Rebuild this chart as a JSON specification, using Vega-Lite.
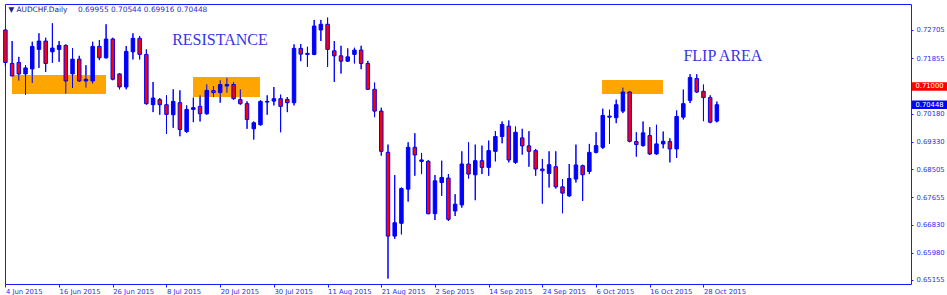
{
  "$schema": "https://vega.github.io/schema/vega-lite/v6.json",
  "width": 906,
  "height": 280,
  "autosize": "none",
  "padding": {"left": 5, "top": 4, "right": 36, "bottom": 11},
  "background": "white",
  "config": {
    "view": {"stroke": "#1a1aff", "strokeWidth": 1},
    "font": "DejaVu Sans",
    "axis": {"grid": false, "domain": false, "labelOverlap": false, "labelBound": false, "labelFlush": false}
  },
  "datasets": {
    "candles": [
      {"i":0,"d":"2015-06-04","o":0.72705,"h":0.72735,"l":0.71612,"c":0.71724},
      {"i":1,"d":"2015-06-05","o":0.71694,"h":0.72371,"l":0.71308,"c":0.71318},
      {"i":2,"d":"2015-06-08","o":0.71724,"h":0.71894,"l":0.71178,"c":0.71378},
      {"i":3,"d":"2015-06-09","o":0.71378,"h":0.71642,"l":0.70753,"c":0.71560},
      {"i":4,"d":"2015-06-10","o":0.71530,"h":0.72350,"l":0.71105,"c":0.72210},
      {"i":5,"d":"2015-06-11","o":0.72119,"h":0.72605,"l":0.71560,"c":0.72371},
      {"i":6,"d":"2015-06-12","o":0.72371,"h":0.72471,"l":0.71439,"c":0.71694},
      {"i":7,"d":"2015-06-15","o":0.72046,"h":0.72908,"l":0.71712,"c":0.72159},
      {"i":8,"d":"2015-06-16","o":0.72119,"h":0.72371,"l":0.71743,"c":0.72240},
      {"i":9,"d":"2015-06-17","o":0.72240,"h":0.72271,"l":0.70783,"c":0.71166},
      {"i":10,"d":"2015-06-18","o":0.71378,"h":0.72159,"l":0.70953,"c":0.71825},
      {"i":11,"d":"2015-06-19","o":0.71825,"h":0.71925,"l":0.71135,"c":0.71166},
      {"i":12,"d":"2015-06-22","o":0.71166,"h":0.71642,"l":0.70965,"c":0.71217},
      {"i":13,"d":"2015-06-23","o":0.71166,"h":0.72350,"l":0.71087,"c":0.72210},
      {"i":14,"d":"2015-06-24","o":0.72210,"h":0.72401,"l":0.71794,"c":0.71864},
      {"i":15,"d":"2015-06-25","o":0.71864,"h":0.72878,"l":0.71846,"c":0.72432},
      {"i":16,"d":"2015-06-26","o":0.72432,"h":0.72471,"l":0.71187,"c":0.71217},
      {"i":17,"d":"2015-06-29","o":0.71378,"h":0.71400,"l":0.70914,"c":0.70984},
      {"i":18,"d":"2015-06-30","o":0.70984,"h":0.72219,"l":0.70914,"c":0.72058},
      {"i":19,"d":"2015-07-01","o":0.72046,"h":0.72605,"l":0.71816,"c":0.72453},
      {"i":20,"d":"2015-07-02","o":0.72453,"h":0.72523,"l":0.71816,"c":0.71967},
      {"i":21,"d":"2015-07-03","o":0.71967,"h":0.72119,"l":0.70449,"c":0.70480},
      {"i":22,"d":"2015-07-06","o":0.70449,"h":0.71135,"l":0.70225,"c":0.70650},
      {"i":23,"d":"2015-07-07","o":0.70601,"h":0.70650,"l":0.70146,"c":0.70449},
      {"i":24,"d":"2015-07-08","o":0.70449,"h":0.70732,"l":0.69569,"c":0.70155},
      {"i":25,"d":"2015-07-09","o":0.70146,"h":0.70914,"l":0.69751,"c":0.70549},
      {"i":26,"d":"2015-07-10","o":0.70510,"h":0.70883,"l":0.69496,"c":0.69699},
      {"i":27,"d":"2015-07-13","o":0.69639,"h":0.70428,"l":0.69599,"c":0.70307},
      {"i":28,"d":"2015-07-14","o":0.70307,"h":0.70662,"l":0.69921,"c":0.70358},
      {"i":29,"d":"2015-07-15","o":0.70398,"h":0.70732,"l":0.69942,"c":0.70176},
      {"i":30,"d":"2015-07-16","o":0.70176,"h":0.71066,"l":0.70146,"c":0.70883},
      {"i":31,"d":"2015-07-17","o":0.70874,"h":0.71014,"l":0.70680,"c":0.70814},
      {"i":32,"d":"2015-07-20","o":0.70814,"h":0.71187,"l":0.70510,"c":0.71057},
      {"i":33,"d":"2015-07-21","o":0.71014,"h":0.71257,"l":0.70814,"c":0.71057},
      {"i":34,"d":"2015-07-22","o":0.71057,"h":0.71135,"l":0.70601,"c":0.70631},
      {"i":35,"d":"2015-07-23","o":0.70601,"h":0.70914,"l":0.70449,"c":0.70480},
      {"i":36,"d":"2015-07-24","o":0.70480,"h":0.70549,"l":0.69721,"c":0.70003},
      {"i":37,"d":"2015-07-27","o":0.69721,"h":0.69942,"l":0.69396,"c":0.69903},
      {"i":38,"d":"2015-07-28","o":0.69842,"h":0.70580,"l":0.69821,"c":0.70549},
      {"i":39,"d":"2015-07-29","o":0.70528,"h":0.70732,"l":0.70146,"c":0.70549},
      {"i":40,"d":"2015-07-30","o":0.70559,"h":0.70984,"l":0.70428,"c":0.70631},
      {"i":41,"d":"2015-07-31","o":0.70631,"h":0.70753,"l":0.69617,"c":0.70398},
      {"i":42,"d":"2015-08-03","o":0.70610,"h":0.70680,"l":0.70225,"c":0.70510},
      {"i":43,"d":"2015-08-04","o":0.70510,"h":0.72271,"l":0.70428,"c":0.72149},
      {"i":44,"d":"2015-08-05","o":0.72149,"h":0.72280,"l":0.71764,"c":0.71976},
      {"i":45,"d":"2015-08-06","o":0.71967,"h":0.72198,"l":0.71591,"c":0.71998},
      {"i":46,"d":"2015-08-07","o":0.71967,"h":0.73009,"l":0.71946,"c":0.72826},
      {"i":47,"d":"2015-08-10","o":0.72705,"h":0.73009,"l":0.72371,"c":0.72878},
      {"i":48,"d":"2015-08-11","o":0.72878,"h":0.73078,"l":0.71591,"c":0.72119},
      {"i":49,"d":"2015-08-12","o":0.72077,"h":0.72371,"l":0.71135,"c":0.71925},
      {"i":50,"d":"2015-08-13","o":0.71925,"h":0.72228,"l":0.71390,"c":0.71764},
      {"i":51,"d":"2015-08-14","o":0.71764,"h":0.72149,"l":0.71743,"c":0.71894},
      {"i":52,"d":"2015-08-17","o":0.71967,"h":0.72168,"l":0.71694,"c":0.72098},
      {"i":53,"d":"2015-08-18","o":0.72098,"h":0.72228,"l":0.71521,"c":0.71694},
      {"i":54,"d":"2015-08-19","o":0.71694,"h":0.71773,"l":0.70893,"c":0.70914},
      {"i":55,"d":"2015-08-20","o":0.70914,"h":0.71117,"l":0.70073,"c":0.70255},
      {"i":56,"d":"2015-08-21","o":0.70255,"h":0.70358,"l":0.68910,"c":0.69041},
      {"i":57,"d":"2015-08-24","o":0.69010,"h":0.69244,"l":0.65197,"c":0.66481},
      {"i":58,"d":"2015-08-25","o":0.66481,"h":0.68324,"l":0.66399,"c":0.66885},
      {"i":59,"d":"2015-08-26","o":0.66867,"h":0.67948,"l":0.66533,"c":0.67917},
      {"i":60,"d":"2015-08-27","o":0.67899,"h":0.69314,"l":0.67523,"c":0.69162},
      {"i":61,"d":"2015-08-28","o":0.69162,"h":0.69587,"l":0.68303,"c":0.68931},
      {"i":62,"d":"2015-08-31","o":0.68737,"h":0.68992,"l":0.68354,"c":0.68780},
      {"i":63,"d":"2015-09-01","o":0.68737,"h":0.68780,"l":0.67140,"c":0.67158},
      {"i":64,"d":"2015-09-02","o":0.67158,"h":0.68324,"l":0.66967,"c":0.68151},
      {"i":65,"d":"2015-09-03","o":0.68099,"h":0.68758,"l":0.67696,"c":0.68251},
      {"i":66,"d":"2015-09-04","o":0.68233,"h":0.68354,"l":0.66937,"c":0.66988},
      {"i":67,"d":"2015-09-07","o":0.67240,"h":0.67747,"l":0.67088,"c":0.67444},
      {"i":68,"d":"2015-09-08","o":0.67422,"h":0.69041,"l":0.67340,"c":0.68658},
      {"i":69,"d":"2015-09-09","o":0.68658,"h":0.69314,"l":0.68221,"c":0.68354},
      {"i":70,"d":"2015-09-10","o":0.68333,"h":0.69244,"l":0.67565,"c":0.68758},
      {"i":71,"d":"2015-09-11","o":0.68758,"h":0.69214,"l":0.68354,"c":0.68555},
      {"i":72,"d":"2015-09-14","o":0.68555,"h":0.69365,"l":0.68303,"c":0.69062},
      {"i":73,"d":"2015-09-15","o":0.69041,"h":0.69648,"l":0.68737,"c":0.69487},
      {"i":74,"d":"2015-09-16","o":0.69487,"h":0.69942,"l":0.69283,"c":0.69851},
      {"i":75,"d":"2015-09-17","o":0.69800,"h":0.69973,"l":0.68707,"c":0.68780},
      {"i":76,"d":"2015-09-18","o":0.68707,"h":0.69790,"l":0.68658,"c":0.69617},
      {"i":77,"d":"2015-09-21","o":0.69447,"h":0.69721,"l":0.68940,"c":0.69205},
      {"i":78,"d":"2015-09-22","o":0.69205,"h":0.69648,"l":0.68576,"c":0.69041},
      {"i":79,"d":"2015-09-23","o":0.69062,"h":0.69113,"l":0.68303,"c":0.68506},
      {"i":80,"d":"2015-09-24","o":0.68506,"h":0.68810,"l":0.67462,"c":0.68455},
      {"i":81,"d":"2015-09-25","o":0.68373,"h":0.69041,"l":0.67948,"c":0.68637},
      {"i":82,"d":"2015-09-28","o":0.68576,"h":0.69041,"l":0.67917,"c":0.67969},
      {"i":83,"d":"2015-09-29","o":0.67969,"h":0.68203,"l":0.67170,"c":0.67778},
      {"i":84,"d":"2015-09-30","o":0.67696,"h":0.68658,"l":0.67665,"c":0.68221},
      {"i":85,"d":"2015-10-01","o":0.68203,"h":0.69244,"l":0.68099,"c":0.68628},
      {"i":86,"d":"2015-10-02","o":0.68606,"h":0.68637,"l":0.67544,"c":0.68333},
      {"i":87,"d":"2015-10-05","o":0.68433,"h":0.69265,"l":0.68354,"c":0.69010},
      {"i":88,"d":"2015-10-06","o":0.69010,"h":0.69617,"l":0.68980,"c":0.69214},
      {"i":89,"d":"2015-10-07","o":0.69162,"h":0.70328,"l":0.69113,"c":0.70124},
      {"i":90,"d":"2015-10-08","o":0.70073,"h":0.70298,"l":0.69265,"c":0.70103},
      {"i":91,"d":"2015-10-09","o":0.70055,"h":0.70601,"l":0.69891,"c":0.70449},
      {"i":92,"d":"2015-10-12","o":0.70255,"h":0.70965,"l":0.70194,"c":0.70832},
      {"i":93,"d":"2015-10-13","o":0.70832,"h":0.70862,"l":0.69314,"c":0.69344},
      {"i":94,"d":"2015-10-14","o":0.69335,"h":0.69617,"l":0.68880,"c":0.69244},
      {"i":95,"d":"2015-10-15","o":0.69214,"h":0.69942,"l":0.69183,"c":0.69599},
      {"i":96,"d":"2015-10-16","o":0.69517,"h":0.69769,"l":0.68931,"c":0.68962},
      {"i":97,"d":"2015-10-19","o":0.68962,"h":0.69842,"l":0.68940,"c":0.69265},
      {"i":98,"d":"2015-10-20","o":0.69265,"h":0.69639,"l":0.69132,"c":0.69344},
      {"i":99,"d":"2015-10-21","o":0.69335,"h":0.69435,"l":0.68707,"c":0.69113},
      {"i":100,"d":"2015-10-22","o":0.69113,"h":0.70276,"l":0.68840,"c":0.70094},
      {"i":101,"d":"2015-10-23","o":0.70073,"h":0.70905,"l":0.70003,"c":0.70480},
      {"i":102,"d":"2015-10-26","o":0.70580,"h":0.71369,"l":0.70498,"c":0.71269},
      {"i":103,"d":"2015-10-27","o":0.71239,"h":0.71369,"l":0.70801,"c":0.70832},
      {"i":104,"d":"2015-10-28","o":0.70853,"h":0.71057,"l":0.69951,"c":0.70662},
      {"i":105,"d":"2015-10-29","o":0.70662,"h":0.70732,"l":0.69891,"c":0.69921},
      {"i":106,"d":"2015-10-30","o":0.69955,"h":0.70544,"l":0.69916,"c":0.70448}
    ],
    "zones": [
      {"a": 0.98, "b": 14.99, "lo": 0.70772, "hi": 0.71346},
      {"a": 27.95, "b": 37.93, "lo": 0.70682, "hi": 0.71286},
      {"a": 88.89, "b": 97.97, "lo": 0.70772, "hi": 0.71195}
    ],
    "notes": [
      {"i": 31.97, "p": 0.72403, "t": "RESISTANCE"},
      {"i": 106.9, "p": 0.71905, "t": "FLIP AREA"}
    ],
    "header": [
      {"i": 0.45, "p": 0.73309, "t": "▼ AUDCHF.Daily", "k": "name"},
      {"i": 10.82, "p": 0.73309, "t": "0.69955 0.70544 0.69916 0.70448", "k": "ohlc"}
    ],
    "prices": [
      {"p": 0.71, "t": "0.71000", "k": "line"},
      {"p": 0.70448, "t": "0.70448", "k": "bid"}
    ]
  },
  "layer": [
    {
      "data": {"name": "candles"},
      "mark": {"type": "rule", "color": "#0000ff", "strokeWidth": 1},
      "encoding": {
        "x": {
          "field": "i", "type": "quantitative", "title": null,
          "scale": {"domain": [-0.06, 134.92], "nice": false, "zero": false, "padding": 0},
          "axis": {
            "values": [0, 8, 16, 24, 32, 40, 48, 56, 64, 72, 80, 88, 96, 104],
            "tickCount": 40,
            "labelExpr": "datum.value == 0 ? '4 Jun 2015' : datum.value == 8 ? '16 Jun 2015' : datum.value == 16 ? '26 Jun 2015' : datum.value == 24 ? '8 Jul 2015' : datum.value == 32 ? '20 Jul 2015' : datum.value == 40 ? '30 Jul 2015' : datum.value == 48 ? '11 Aug 2015' : datum.value == 56 ? '21 Aug 2015' : datum.value == 64 ? '2 Sep 2015' : datum.value == 72 ? '14 Sep 2015' : datum.value == 80 ? '24 Sep 2015' : datum.value == 88 ? '6 Oct 2015' : datum.value == 96 ? '16 Oct 2015' : '28 Oct 2015'",
            "grid": false, "domain": false, "tickColor": "#1a1aff", "tickSize": 3,
            "labelColor": "#2a2aff", "labelFont": "DejaVu Sans", "labelFontSize": 6.8,
            "labelAlign": "left", "labelBaseline": "top", "labelPadding": 1,
            "labelOverlap": false, "labelFlush": false, "labelBound": false
          }
        },
        "y": {
          "field": "l", "type": "quantitative", "title": null,
          "scale": {"domain": [0.65034, 0.7349], "nice": false, "zero": false},
          "axis": {
            "orient": "right",
            "values": [0.72705, 0.71855, 0.7018, 0.6933, 0.68505, 0.67655, 0.6683, 0.6598, 0.65155],
            "tickCount": 40,
            "format": ".5f", "grid": false, "domain": false, "tickColor": "#1a1aff", "tickSize": 2,
            "labelColor": "#2a2aff", "labelFont": "DejaVu Sans", "labelFontSize": 6.8,
            "labelPadding": 3, "labelBaseline": "middle",
            "labelOverlap": false, "labelFlush": false, "labelBound": false
          }
        },
        "y2": {"field": "h"}
      }
    },
    {
      "data": {"name": "zones"},
      "mark": {"type": "rect", "color": "#ffa500"},
      "encoding": {
        "x": {"field": "a", "type": "quantitative", "title": null},
        "x2": {"field": "b"},
        "y": {"field": "lo", "type": "quantitative", "title": null},
        "y2": {"field": "hi"}
      }
    },
    {
      "mark": {"type": "rule", "color": "#d0d0d0", "strokeWidth": 1.5},
      "encoding": {"y": {"datum": 0.70448, "type": "quantitative", "title": null}}
    },
    {
      "data": {"name": "candles"},
      "mark": {"type": "rule", "color": "#0000ff", "strokeWidth": 1},
      "encoding": {
        "x": {"field": "i", "type": "quantitative", "title": null},
        "y": {"field": "l", "type": "quantitative", "title": null},
        "y2": {"field": "h"}
      }
    },
    {
      "data": {"name": "candles"},
      "mark": {"type": "bar", "width": 3.5, "stroke": "#0000ff", "strokeWidth": 1},
      "encoding": {
        "x": {"field": "i", "type": "quantitative", "title": null, "scale": {"padding": 0}},
        "y": {"field": "o", "type": "quantitative", "title": null},
        "y2": {"field": "c"},
        "fill": {"condition": {"test": "datum.c >= datum.o", "value": "#0000ff"}, "value": "#ff0000"}
      }
    },
    {
      "mark": {"type": "rule", "color": "#ff0000", "strokeWidth": 2},
      "encoding": {"y": {"datum": 0.71, "type": "quantitative", "title": null}}
    },
    {
      "data": {"name": "notes"},
      "mark": {"type": "text", "font": "Liberation Serif", "fontSize": 16, "color": "#3535e5", "align": "center", "baseline": "middle"},
      "encoding": {
        "x": {"field": "i", "type": "quantitative", "title": null},
        "y": {"field": "p", "type": "quantitative", "title": null},
        "text": {"field": "t"}
      }
    },
    {
      "data": {"name": "header"},
      "mark": {"type": "text", "font": "DejaVu Sans", "fontSize": 7.4, "align": "left", "baseline": "middle"},
      "encoding": {
        "x": {"field": "i", "type": "quantitative", "title": null},
        "y": {"field": "p", "type": "quantitative", "title": null},
        "text": {"field": "t"},
        "fill": {"condition": {"test": "datum.k == 'name'", "value": "#1c1c8c"}, "value": "#3030d0"}
      }
    },
    {
      "data": {"name": "prices"},
      "mark": {"type": "tick", "orient": "horizontal", "size": 35, "thickness": 8.5, "opacity": 1},
      "encoding": {
        "x": {"datum": 137.68, "type": "quantitative", "title": null},
        "y": {"field": "p", "type": "quantitative", "title": null},
        "color": {"condition": {"test": "datum.k == 'line'", "value": "#ff0000"}, "value": "#0000ff"}
      }
    },
    {
      "data": {"name": "prices"},
      "mark": {"type": "text", "font": "DejaVu Sans", "fontSize": 6.8, "color": "white", "align": "center", "baseline": "middle"},
      "encoding": {
        "x": {"datum": 137.68, "type": "quantitative", "title": null},
        "y": {"field": "p", "type": "quantitative", "title": null},
        "text": {"field": "t"}
      }
    },
    {
      "mark": {"type": "point", "shape": "triangle-down", "filled": true, "color": "#a0a0a0", "size": 30, "opacity": 1},
      "encoding": {
        "x": {"datum": 107.66, "type": "quantitative", "title": null},
        "y": {"datum": 0.73445, "type": "quantitative", "title": null}
      }
    }
  ]
}
